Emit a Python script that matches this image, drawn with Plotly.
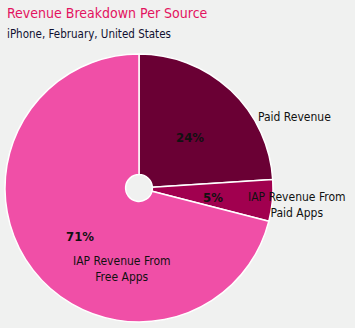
import plotly.graph_objects as go

categories = ["Paid Revenue", "IAP Revenue From<br>Paid Apps", "IAP Revenue From<br>Free Apps"]
values = [24, 5, 71]
colors = ["#6a0034", "#a1004f", "#f04fa7"]
pct_labels = ["24%", "5%", "71%"]

W, H = 355, 328
FONT = "DejaVu Sans Condensed, sans-serif"

# pixel positions (from top-left) of the name labels and percentage labels
label_px = [(294, 117), (297, 205), (122, 269)]
pct_px = [(190, 137), (213, 197), (80, 236)]

fig = go.Figure()
fig.add_trace(go.Pie(
    labels=categories,
    values=values,
    sort=False,
    direction="clockwise",
    rotation=0,
    hole=0.1,
    marker=dict(colors=colors, line=dict(color="#ffffff", width=1.5)),
    textinfo="none",
    domain=dict(x=[5 / W, 273 / W], y=[6 / H, 274 / H]),
    showlegend=False,
    hoverinfo="label+percent",
))

def px2paper(x, y):
    return x / W, 1 - y / H

for name, (x, y) in zip(categories, label_px):
    px, py = px2paper(x, y)
    fig.add_annotation(x=px, y=py, xref="paper", yref="paper", text=name,
                       xanchor="center", yanchor="middle",
                       showarrow=False, align="center",
                       font=dict(family=FONT, size=12, color="#111111"))

for pct, (x, y) in zip(pct_labels, pct_px):
    px, py = px2paper(x, y)
    fig.add_annotation(x=px, y=py, xref="paper", yref="paper", text="<b>" + pct + "</b>",
                       xanchor="center", yanchor="middle",
                       showarrow=False,
                       font=dict(family=FONT, size=13, color="#111111"))

fig.add_annotation(x=5 / W, y=1 - 13 / H, xref="paper", yref="paper",
                   xanchor="left", yanchor="middle", showarrow=False,
                   text="Revenue Breakdown Per Source",
                   font=dict(family=FONT, size=14, color="#e3135f"))
fig.add_annotation(x=5 / W, y=1 - 34 / H, xref="paper", yref="paper",
                   xanchor="left", yanchor="middle", showarrow=False,
                   text="iPhone, February, United States",
                   font=dict(family=FONT, size=11.5, color="#101030"))

fig.update_layout(
    width=W, height=H,
    margin=dict(l=0, r=0, t=0, b=0),
    paper_bgcolor="#f0f1f0",
    plot_bgcolor="#f0f1f0",
)

fig.write_html("out.html")
